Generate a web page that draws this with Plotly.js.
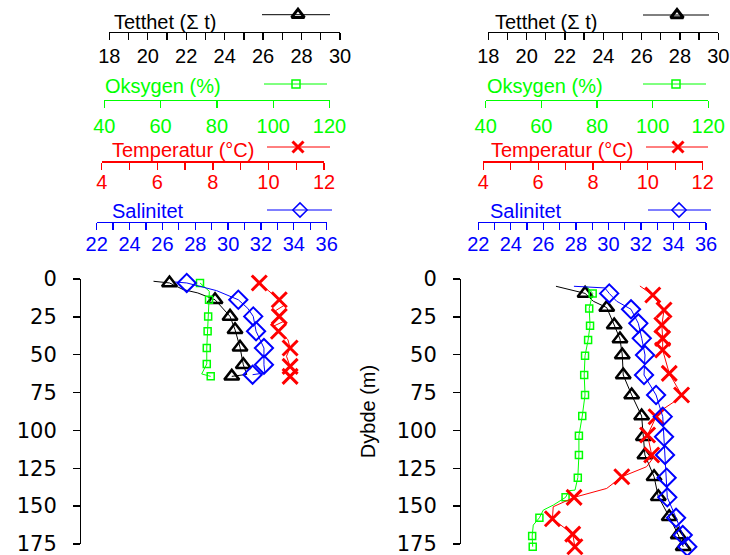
<!DOCTYPE html>
<html><head><meta charset="utf-8">
<script src="https://cdn.plot.ly/plotly-3.0.1.min.js"></script>
<style>html,body{margin:0;padding:0;background:#fff}</style>
</head><body>
<div id="chart" style="width:730px;height:555px"></div>
<script>
// ---------------- DATA ----------------
// Tick labels
const depthTicks = [0, 25, 50, 75, 100, 125, 150, 175];
const tetthetTicks = [18, 20, 22, 24, 26, 28, 30];
const oksygenTicks = [40, 60, 80, 100, 120];
const temperaturTicks = [4, 6, 8, 10, 12];
const salinitetTicks = [22, 24, 26, 28, 30, 32, 34, 36];
const seriesNames = ['Tetthet (\u03A3 t)', 'Oksygen (%)', 'Temperatur (\u00B0C)', 'Salinitet'];

// Left station – marker points
const A_tetthetDepth = [2.6, 13.7, 24.7, 33.5, 45.1, 56.6, 64.3];
const A_tetthet      = [21.13, 23.5, 24.28, 24.54, 24.8, 24.97, 24.37];
const A_oksygenDepth = [2.6, 13.7, 24.7, 34.5, 45.6, 56.1, 64.3];
const A_oksygen      = [74.0, 77.2, 76.9, 76.7, 76.4, 76.4, 77.8];
const A_tempDepth    = [2.6, 13.7, 24.7, 34.5, 45.6, 57.7, 64.3];
const A_temp         = [9.67, 10.39, 10.39, 10.36, 10.78, 10.78, 10.78];
const A_salDepth     = [2.6, 13.7, 24.7, 34.5, 45.6, 56.6, 63.2];
const A_sal          = [27.48, 30.62, 31.53, 31.70, 32.18, 32.18, 31.49];
// Left station – continuous profiles
const A_tetthetLineDepth = [1.5, 2.6, 7, 9.2, 13.7, 19, 24.7, 33.5, 45.1, 56.6, 63, 64.3];
const A_tetthetLine      = [20.3, 21.13, 21.85, 22.6, 23.5, 23.9, 24.28, 24.54, 24.8, 24.97, 25.15, 24.37];
const A_oksygenLineDepth = [2.6, 8.1, 13.7, 24.7, 34.5, 45.6, 56.1, 62.7, 64.3];
const A_oksygenLine      = [74.0, 77.3, 77.2, 76.9, 76.7, 76.4, 76.4, 74.6, 77.8];
const A_tempLineDepth    = [2.6, 9.2, 13.7, 17, 21, 24.7, 28, 31, 34.5, 40, 45.6, 51, 57.7, 61, 64.3];
const A_tempLine         = [9.67, 10.12, 10.39, 10.6, 10.25, 10.39, 10.55, 10.2, 10.36, 10.7, 10.78, 10.65, 10.78, 10.9, 10.78];
const A_salLineDepth     = [2.0, 2.6, 7.7, 13.7, 19.4, 24.7, 34.5, 45.6, 56.6, 62, 63.2];
const A_salLine          = [26.77, 27.48, 29.3, 30.62, 31.2, 31.53, 31.70, 32.18, 32.18, 32.24, 31.49];

// Right station – marker points
const B_tetthetDepth = [9.5, 18.9, 30.4, 39.6, 50.2, 63.4, 76.6, 90.5, 104.2, 116.2, 130.6, 143.8, 157, 169, 176.8];
const B_tetthet      = [23.05, 24.18, 24.57, 24.87, 24.99, 25.04, 25.48, 26.0, 26.09, 26.17, 26.65, 26.87, 27.44, 27.91, 28.17];
const B_oksygenDepth = [9.5, 19.4, 30.8, 40.3, 50.7, 63.4, 76.6, 90.5, 103.5, 116.2, 131.2, 144.2, 157.7, 169.7, 176.8];
const B_oksygen      = [78.45, 77.2, 77.5, 76.8, 75.7, 75.4, 75.7, 74.7, 73.5, 73.5, 73.1, 68.7, 59.3, 56.7, 56.9];
const B_tempDepth    = [10.6, 20.5, 30.4, 39.2, 46.9, 62.3, 76.6, 91, 103, 116.2, 130.6, 144.2, 158.3, 168.5, 176.8];
const B_temp         = [10.18, 10.59, 10.51, 10.54, 10.54, 10.78, 11.23, 10.3, 9.99, 10.14, 9.05, 7.31, 6.52, 7.26, 7.34];
const B_salDepth     = [9.5, 20, 29.3, 39.2, 50.2, 63.4, 76.6, 90.9, 104.2, 116.2, 131.2, 144.2, 157.7, 169.1, 176.8];
const B_sal          = [30.05, 31.39, 31.84, 32.05, 32.25, 32.19, 32.93, 33.34, 33.42, 33.48, 33.58, 33.62, 34.16, 34.57, 34.85];
// Right station – continuous profiles
const B_tetthetLineDepth = [4.8, 9.5, 14.7, 18.9, 30.4, 39.6, 50.2, 63.4, 76.6, 90.5, 104.2, 116.2, 130.6, 143.8, 157, 169, 176.8];
const B_tetthetLine      = [21.53, 23.05, 23.48, 24.18, 24.57, 24.87, 24.99, 25.04, 25.48, 26.0, 26.09, 26.17, 26.65, 26.87, 27.44, 27.91, 28.17];
const B_oksygenLineDepth = [4.8, 9.5, 19.4, 30.8, 40.3, 50.7, 63.4, 76.6, 90.5, 103.5, 116.2, 131.2, 139.4, 139.8, 144.2, 149.3, 152.6, 157.7, 162.5, 169.7, 176.8];
const B_oksygenLine      = [76.3, 78.45, 77.2, 77.5, 76.8, 75.7, 75.4, 75.7, 74.7, 73.5, 73.5, 73.1, 72.1, 70.0, 68.7, 64.3, 60.7, 59.3, 57.1, 56.7, 56.9];
const B_tempLineDepth    = [4.6, 10.6, 20.5, 30.4, 39.2, 46.9, 62.3, 76.6, 80, 88.7, 91, 103, 116.2, 119.5, 124, 130.6, 138.3, 142.7, 144.2, 150.4, 158.3, 168.5, 176.8];
const B_tempLine         = [9.71, 10.18, 10.59, 10.51, 10.54, 10.54, 10.78, 11.23, 11.05, 10.32, 10.3, 9.99, 10.14, 10.14, 9.95, 9.05, 8.5, 7.59, 7.31, 6.55, 6.52, 7.26, 7.34];
const B_salLineDepth     = [4.8, 5.9, 9.5, 14.7, 20, 29.3, 39.2, 50.2, 63.4, 76.6, 90.9, 104.2, 116.2, 131.2, 144.2, 157.7, 169.1, 176.8];
const B_salLine          = [27.88, 29.78, 30.05, 30.51, 31.39, 31.84, 32.05, 32.25, 32.19, 32.93, 33.34, 33.42, 33.48, 33.58, 33.62, 34.16, 34.57, 34.85];

// ---------------- STYLE / LAYOUT ----------------
const W = 730, H = 555;
const fx = p => p / W, fy = p => 1 - p / H;
const FONT = 'Liberation Sans, Arial, sans-serif';
const COL = ['#000000', '#00ff00', '#ff0000', '#0000ff'];
const SYM = ['triangle-up-open', 'square-open', 'x-thin-open', 'diamond-open'];
const MSIZE = [13, 7, 15, 14];
const MLW = [2.5, 1.5, 3, 2];
const RANGES = [[18, 30], [40, 120], [4, 12], [22, 36]];
const TICKS = [tetthetTicks, oksygenTicks, temperaturTicks, salinitetTicks];
const MINOR = [1, null, 1, 1];
// pixel geometry of the four top axes per panel: [x0, x1, yLine]
const AXPX = [
  [[109.3, 340, 31.7], [104.3, 329.5, 100], [101.7, 324, 161.3], [96.7, 326.7, 221.7]],
  [[488.3, 718.3, 31.7], [485.7, 708.3, 100], [483.3, 702.7, 161.3], [478.3, 706, 221.7]]
];
const STANDOFF = [-1, 1, -5, -3];
// legend sample geometry per panel: [lineX0, lineX1, markerX, y]
const LEGPX = [
  [[262, 330, 298, 14.7], [264, 327, 296, 84], [267, 330, 298, 147], [267, 332, 300, 210]],
  [[643, 709, 677, 15], [643, 706, 676, 84], [646, 708, 678, 147], [648, 711, 679, 210]]
];
const TITLEPX = [
  [[112, 22], [103, 86], [110, 150], [110, 211]],
  [[493, 22], [485, 86], [489, 150], [488, 211]]
];
const DEPTH_AXIS_X = [80, 460];
const DEPTH_TOP_PX = 279, DEPTH_175_PX = 544;
// data depth axis spans to the picture bottom with the same scale
const DATA_DEPTH_MAX = 175 * (H - DEPTH_TOP_PX) / (DEPTH_175_PX - DEPTH_TOP_PX);

const stations = [
  {
    mk: [[A_tetthetDepth, A_tetthet], [A_oksygenDepth, A_oksygen], [A_tempDepth, A_temp], [A_salDepth, A_sal]],
    ln: [[A_tetthetLineDepth, A_tetthetLine], [A_oksygenLineDepth, A_oksygenLine], [A_tempLineDepth, A_tempLine], [A_salLineDepth, A_salLine]]
  },
  {
    mk: [[B_tetthetDepth, B_tetthet], [B_oksygenDepth, B_oksygen], [B_tempDepth, B_temp], [B_salDepth, B_sal]],
    ln: [[B_tetthetLineDepth, B_tetthetLine], [B_oksygenLineDepth, B_oksygenLine], [B_tempLineDepth, B_tempLine], [B_salLineDepth, B_salLine]]
  }
];

const layout = {
  width: W, height: H,
  margin: {l: 0, r: 0, t: 0, b: 0, pad: 0},
  paper_bgcolor: '#ffffff', plot_bgcolor: 'rgba(0,0,0,0)',
  showlegend: false,
  font: {family: FONT, size: 20, color: '#000'},
  annotations: []
};
const traces = [];

// invisible data depth axis (shared by both panels)
layout.yaxis4 = {domain: [0, fy(DEPTH_TOP_PX)], range: [DATA_DEPTH_MAX, 0], anchor: 'free', position: 0,
  visible: false, showgrid: false, zeroline: false, fixedrange: true};

for (let p = 0; p < 2; p++) {
  const yId = p === 0 ? 'y' : 'y2';
  const yKey = p === 0 ? 'yaxis' : 'yaxis2';
  layout[yKey] = {
    domain: [fy(DEPTH_175_PX), fy(DEPTH_TOP_PX)], range: [175, 0], anchor: 'free', position: fx(DEPTH_AXIS_X[p]),
    tickmode: 'array', tickvals: depthTicks, ticks: 'outside', ticklen: 7, tickwidth: 1.3,
    tickcolor: '#000', showline: true, linecolor: '#000', linewidth: 1.3,
    showgrid: false, zeroline: false, ticklabelstandoff: 12, ticklabeloverflow: 'allow',
    tickfont: {family: 'DejaVu Sans, sans-serif', size: 21, color: '#000'}
  };
  if (p === 1) {
    layout[yKey].title = {text: 'Dybde (m)', font: {family: FONT, size: 20, color: '#000'}, standoff: 14};
  }
  for (let v = 0; v < 4; v++) {
    const n = p * 4 + v + 1;
    const xId = n === 1 ? 'x' : 'x' + n;
    const xKey = n === 1 ? 'xaxis' : 'xaxis' + n;
    const g = AXPX[p][v];
    const ax = {
      domain: [fx(g[0]), fx(g[1])], range: RANGES[v], anchor: 'free', position: fy(g[2]),
      side: 'bottom', tickmode: 'array', tickvals: TICKS[v], ticks: 'outside', ticklen: 7,
      tickwidth: 1.3, tickcolor: COL[v], showline: true, linecolor: COL[v], linewidth: 1.3,
      showgrid: false, zeroline: false, ticklabelstandoff: STANDOFF[v], ticklabeloverflow: 'allow',
      tickfont: {family: FONT, size: 20, color: COL[v]}
    };
    if (MINOR[v]) ax.minor = {dtick: MINOR[v], tick0: RANGES[v][0], ticks: 'outside', ticklen: 7, tickwidth: 1.3, tickcolor: COL[v], showgrid: false};
    layout[xKey] = ax;

    // empty trace so the visible depth axis belongs to a subplot
    if (v === 0) traces.push({type: 'scatter', mode: 'lines', x: [], y: [], xaxis: xId, yaxis: yId, hoverinfo: 'skip'});

    const st = stations[p];
    traces.push({
      type: 'scatter', mode: 'lines', x: st.ln[v][1], y: st.ln[v][0], xaxis: xId, yaxis: 'y4',
      line: {color: COL[v], width: 1}, hoverinfo: 'skip'
    });
    traces.push({
      type: 'scatter', mode: 'markers', x: st.mk[v][1], y: st.mk[v][0], xaxis: xId, yaxis: 'y4',
      cliponaxis: false, name: seriesNames[v],
      marker: {symbol: SYM[v], size: MSIZE[v], color: COL[v], line: {color: COL[v], width: MLW[v]}}
    });

    // legend-style title + sample
    const t = TITLEPX[p][v];
    layout.annotations.push({
      xref: 'paper', yref: 'paper', x: fx(t[0]), y: fy(t[1]), xanchor: 'left', yanchor: 'middle',
      text: seriesNames[v], showarrow: false, font: {family: FONT, size: 20, color: COL[v]}
    });
    const lg = LEGPX[p][v];
    traces.push({
      type: 'scatter', mode: 'lines', x: [lg[0], lg[1]], y: [lg[3], lg[3]], xaxis: 'x9', yaxis: 'y3',
      line: {color: COL[v], width: 1}, hoverinfo: 'skip'
    });
    traces.push({
      type: 'scatter', mode: 'markers', x: [lg[2]], y: [lg[3]], xaxis: 'x9', yaxis: 'y3', cliponaxis: false,
      marker: {symbol: SYM[v], size: v === 1 ? 8 : 11, color: COL[v], line: {color: COL[v], width: v === 0 ? 3 : (v === 2 ? 3 : 1.5)}},
      hoverinfo: 'skip'
    });
  }
}
layout.xaxis9 = {domain: [0, 1], range: [0, W], visible: false, anchor: 'y3', fixedrange: true};
layout.yaxis3 = {domain: [0, 1], range: [H, 0], visible: false, anchor: 'x9', fixedrange: true};

Plotly.newPlot('chart', traces, layout, {displayModeBar: false, staticPlot: true});
</script>
</body></html>
